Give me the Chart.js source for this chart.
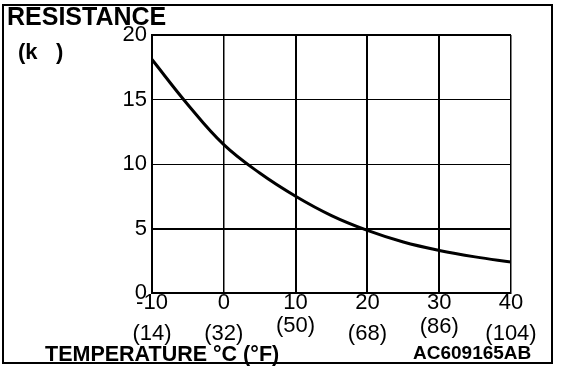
<!DOCTYPE html>
<html>
<head>
<meta charset="utf-8">
<script src="https://cdn.jsdelivr.net/npm/chart.js@4"></script>
<style>
  html, body { margin: 0; padding: 0; background: #fff; }
  #wrap { width: 576px; height: 368px; position: relative; }
</style>
</head>
<body>
<div id="wrap"><canvas id="chart" width="576" height="368"></canvas></div>
<script>
// temperature (°C) and resistance (kΩ)
const tempC = [-10, -5, 0, 5, 10, 15, 20, 25, 30, 35, 40];
const resistance = [18.1, 14.6, 11.5, 9.3, 7.5, 6.0, 4.85, 3.95, 3.3, 2.8, 2.4];
const xTicks = [-10, 0, 10, 20, 30, 40];
const fLabels = ['(14)', '(32)', '(50)', '(68)', '(86)', '(104)'];
const yTicks = [0, 5, 10, 15, 20];

const font = 'Liberation Sans, Arial, sans-serif';

// extra labels, frame and the fahrenheit row
const decor = {
    id: 'decor',
    afterDraw(chart) {
        const ctx = chart.ctx;
        const x = chart.scales.x;
        ctx.save();
        ctx.strokeStyle = '#000';
        ctx.lineWidth = 2;
        ctx.strokeRect(3, 5, 549, 358);

        ctx.fillStyle = '#000';
        ctx.textBaseline = 'alphabetic';
        ctx.textAlign = 'left';
        ctx.font = 'bold 25px ' + font;
        ctx.fillText('RESISTANCE', 7, 25);
        ctx.font = 'bold 22px ' + font;
        ctx.fillText('(k   )', 18, 59);
        ctx.font = 'bold 21.5px ' + font;
        ctx.fillText('TEMPERATURE °C (°F)', 45, 361);
        ctx.font = 'bold 19px ' + font;
        ctx.fillText('AC609165AB', 413, 359);

        const dy = [0, 0, -8, 0, -7, 0];
        ctx.font = '22px ' + font;
        ctx.textAlign = 'center';
        xTicks.forEach((v, i) => {
            ctx.fillText(fLabels[i], x.getPixelForValue(v), 340 + dy[i]);
        });
        ctx.restore();
    }
};

new Chart(document.getElementById('chart'), {
    type: 'line',
    data: {
        labels: tempC,
        datasets: [{
            data: tempC.map((t, i) => ({ x: t, y: resistance[i] })),
            borderColor: '#000',
            borderWidth: 3,
            pointRadius: 0,
            tension: 0.4,
            fill: false
        }]
    },
    options: {
        responsive: false,
        animation: false,
        layout: { padding: { left: 0, top: 35, right: 65, bottom: 0 } },
        plugins: { legend: { display: false }, tooltip: { enabled: false } },
        scales: {
            x: {
                type: 'linear',
                min: -10,
                max: 40,
                afterFit(s) { s.height = 75; },
                afterBuildTicks(s) { s.ticks = xTicks.map(v => ({ value: v })); },
                border: { display: true, color: '#000', width: 2 },
                grid: {
                    color: '#000',
                    drawTicks: false,
                    lineWidth: c => (c.tick && (c.tick.value === 10 || c.tick.value === 20 || c.tick.value === 30)) ? 2 : 1.5
                },
                ticks: {
                    color: '#000',
                    padding: -3,
                    maxRotation: 0,
                    font: { family: font, size: 22 },
                    callback: v => String(v)
                }
            },
            y: {
                min: 0,
                max: 20,
                afterFit(s) { s.width = 152; },
                afterBuildTicks(s) { s.ticks = yTicks.map(v => ({ value: v })); },
                border: { display: true, color: '#000', width: 2 },
                grid: {
                    color: '#000',
                    drawTicks: false,
                    lineWidth: c => (c.tick && (c.tick.value === 5 || c.tick.value === 20)) ? 2 : 1
                },
                ticks: {
                    color: '#000',
                    padding: 5,
                    font: { family: font, size: 22 },
                    callback: v => String(v)
                }
            }
        }
    },
    plugins: [decor]
});
</script>
</body>
</html>
